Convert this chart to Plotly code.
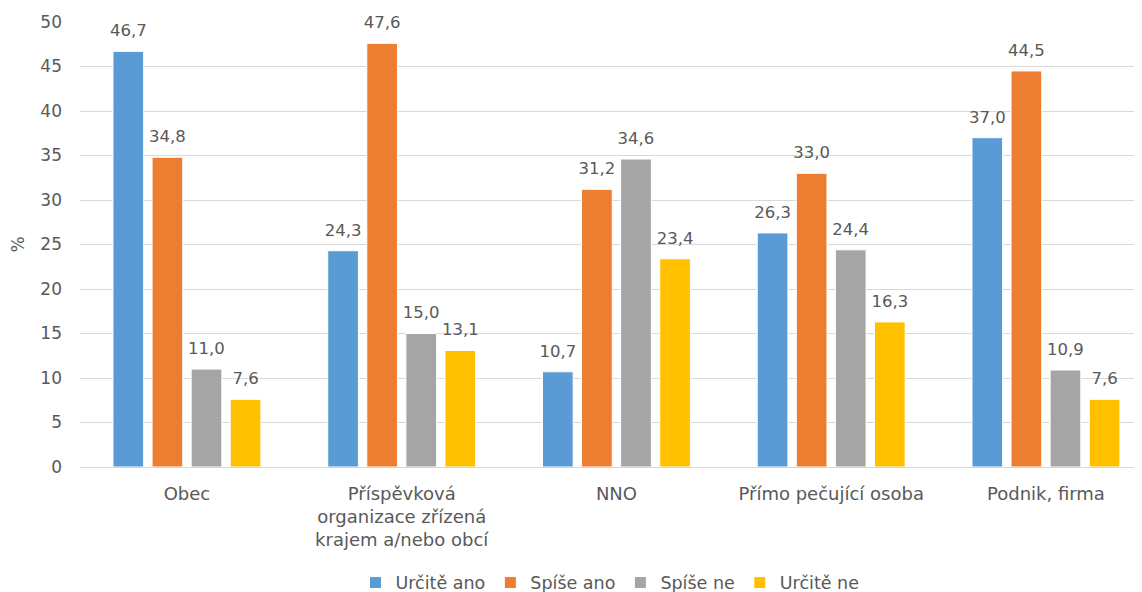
import plotly.graph_objects as go

categories = ["Obec", "Příspěvková<br>organizace zřízená<br>krajem a/nebo obcí", "NNO",
              "Přímo pečující osoba", "Podnik, firma"]
series_names = ["Určitě ano", "Spíše ano", "Spíše ne", "Určitě ne"]
urcite_ano = [46.7, 24.3, 10.7, 26.3, 37.0]
spise_ano = [34.8, 47.6, 31.2, 33.0, 44.5]
spise_ne = [11.0, 15.0, 34.6, 24.4, 10.9]
urcite_ne = [7.6, 13.1, 23.4, 16.3, 7.6]
colors = ["#5B9BD5", "#ED7D31", "#A5A5A5", "#FFC000"]

FONT = "Verdana, DejaVu Sans, sans-serif"
TXT = "#595959"

fig = go.Figure()
for i, (name, vals, col) in enumerate(zip(series_names, [urcite_ano, spise_ano, spise_ne, urcite_ne], colors)):
    fig.add_trace(go.Bar(
        x=categories, y=vals, name=name,
        marker=dict(color=col, line=dict(color="white", width=1)),
        offsetgroup=str(i), alignmentgroup="a",
    ))
for i, vals in enumerate([urcite_ano, spise_ano, spise_ne, urcite_ne]):
    fig.add_trace(go.Scatter(
        x=categories, y=vals, mode="markers+text",
        marker=dict(size=16, color="rgba(0,0,0,0)"),
        text=[f"{v:.1f}".replace(".", ",") for v in vals],
        textposition="top center",
        textfont=dict(family=FONT, size=16.5, color=TXT),
        offsetgroup=str(i), alignmentgroup="a",
        showlegend=False, hoverinfo="skip", cliponaxis=False,
    ))

fig.update_layout(
    width=1134, height=584,
    margin=dict(l=72, r=2, t=14, b=125, autoexpand=False),
    paper_bgcolor="white", plot_bgcolor="white",
    barmode="group", bargap=0.272, bargroupgap=0.215,
    scattermode="group", scattergap=0.272,
    font=dict(family=FONT, size=18, color=TXT),
    showlegend=True,
    legend=dict(orientation="h", x=0.5, xanchor="center", y=-0.26, yanchor="middle",
                font=dict(family=FONT, size=17.5, color=TXT), itemwidth=30,
                traceorder="normal"),
    xaxis=dict(showgrid=False, showline=True, linecolor="#D9D9D9", linewidth=1,
               range=[-0.498, 4.438], automargin=False,
               tickfont=dict(family=FONT, size=18, color=TXT), ticks="",
               ticklabelstandoff=10),
    yaxis=dict(range=[0, 50], dtick=5, showgrid=True, gridcolor="#D9D9D9", gridwidth=1,
               zeroline=False, tickfont=dict(family=FONT, size=17, color=TXT),
               ticklabelstandoff=17, automargin=False,
               title=dict(text="%", font=dict(family=FONT, size=17, color=TXT), standoff=20),
               ticks="", tickformat="d"),
)

fig.write_html("out.html")
